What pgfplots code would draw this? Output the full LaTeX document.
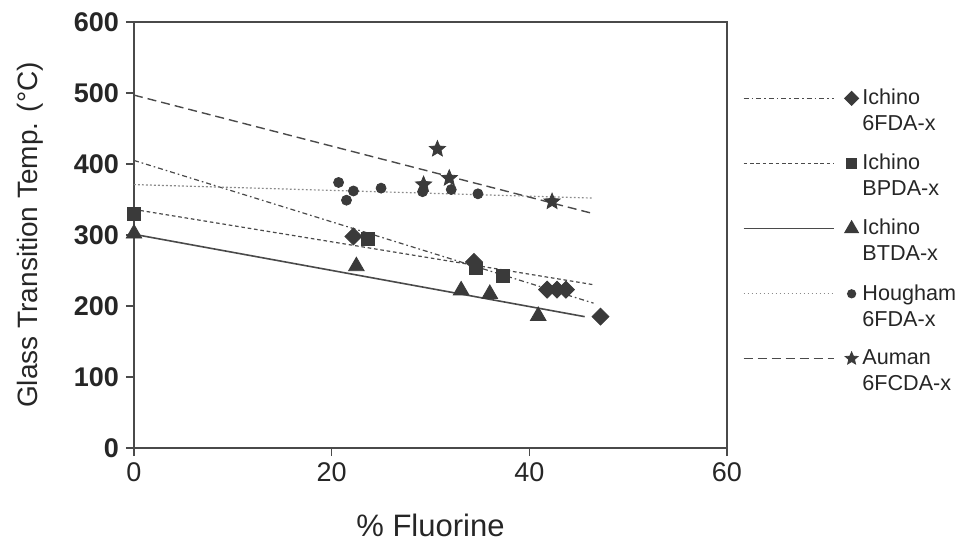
\documentclass[border=0pt]{standalone}
\usepackage{pgfplots}
\pgfplotsset{compat=1.18}
\usepackage{fontspec}
\setmainfont{Liberation Sans}
\definecolor{mk}{HTML}{3A3A3A}
\definecolor{ln}{HTML}{4A4A4A}
\definecolor{lh}{HTML}{8A8A8A}
\pgfdeclareplotmark{fstar}{%
  \pgfpathmoveto{\pgfqpointpolar{90}{\pgfplotmarksize}}%
  \pgfpathlineto{\pgfqpointpolar{126}{0.45\pgfplotmarksize}}%
  \pgfpathlineto{\pgfqpointpolar{162}{\pgfplotmarksize}}%
  \pgfpathlineto{\pgfqpointpolar{198}{0.45\pgfplotmarksize}}%
  \pgfpathlineto{\pgfqpointpolar{234}{\pgfplotmarksize}}%
  \pgfpathlineto{\pgfqpointpolar{270}{0.45\pgfplotmarksize}}%
  \pgfpathlineto{\pgfqpointpolar{306}{\pgfplotmarksize}}%
  \pgfpathlineto{\pgfqpointpolar{342}{0.45\pgfplotmarksize}}%
  \pgfpathlineto{\pgfqpointpolar{18}{\pgfplotmarksize}}%
  \pgfpathlineto{\pgfqpointpolar{54}{0.45\pgfplotmarksize}}%
  \pgfpathclose
  \pgfusepathqfillstroke}
\begin{document}
\begin{tikzpicture}
\useasboundingbox (-67pt,-46pt) rectangle (413.5pt,224pt);
\begin{axis}[
  at={(0,0)}, anchor=south west,
  scale only axis, width=296.5pt, height=213pt,
  xmin=0, xmax=60, ymin=0, ymax=600,
  xtick={0,20,40,60}, ytick={0,100,...,600},
  tick align=outside, tick pos=left,
  major tick length=4pt,
  axis line style={line width=0.8pt, color=ln},
  every tick/.style={line width=0.8pt, color=ln},
  /pgf/number format/assume math mode=true,
  xticklabel style={font=\fontsize{13.5}{15}\selectfont, color=black!85},
  yticklabel style={font=\fontsize{13.5}{15}\selectfont\bfseries, color=black!85},
  xlabel={\% Fluorine}, ylabel={Glass Transition Temp. (°C)},
  every axis x label/.style={at={(axis description cs:0.5,0)}, yshift=-38.5pt, anchor=center, font=\fontsize{15.5}{17}\selectfont, color=black!85},
  every axis y label/.style={at={(axis description cs:0,0.5)}, xshift=-52pt, rotate=90, anchor=center, font=\fontsize{14}{16}\selectfont, color=black!85},
  legend style={at={(1.026,0.853)}, anchor=north west, draw=none, fill=none, inner sep=0pt,
    row sep=6.25pt, font=\fontsize{10.8}{13}\selectfont, text=black!85, cells={align=left}},
  legend cell align=left,
  legend image code/.code={%
    \path[draw=none, fill=none] (0pt,-11pt) rectangle (1pt,11pt);
    \draw[#1, mark=none] (0pt,6.5pt) -- (45pt,6.5pt);
    \draw[#1, solid, every mark/.append style={scale=0.8}] plot coordinates {(54pt,6.5pt)};},
]
% legend entries
\addlegendimage{ln, line width=0.6pt, dash pattern=on 2.5pt off 1.5pt on 0.8pt off 1.5pt, mark=square*, mark size=3pt, mark options={fill=mk, draw=mk, rotate=45}}
\addlegendentry{Ichino\\6FDA-x}
\addlegendimage{ln, line width=0.6pt, dash pattern=on 1.8pt off 1.4pt, mark=square*, mark size=3.2pt, mark options={fill=mk, draw=mk}}
\addlegendentry{Ichino\\BPDA-x}
\addlegendimage{ln, line width=0.8pt, solid, mark=triangle*, mark size=4.5pt, mark options={fill=mk, draw=mk}}
\addlegendentry{Ichino\\BTDA-x}
\addlegendimage{lh, line width=0.6pt, dash pattern=on 0.9pt off 1.1pt, mark=*, mark size=2.5pt, mark options={fill=mk, draw=mk}}
\addlegendentry{Hougham\\6FDA-x}
\addlegendimage{ln, line width=0.7pt, dash pattern=on 4.5pt off 2.5pt, mark=fstar, mark size=4.2pt, mark options={fill=mk, draw=mk, line width=0.4pt}}
\addlegendentry{Auman\\6FCDA-x}
% fitted lines
\addplot[forget plot, ln, line width=0.6pt, dash pattern=on 2.5pt off 1.5pt on 0.8pt off 1.5pt] coordinates {(0,405) (46.5,204)};
\addplot[forget plot, ln, line width=0.6pt, dash pattern=on 1.8pt off 1.4pt] coordinates {(0,336) (46.5,230)};
\addplot[forget plot, ln, line width=0.8pt] coordinates {(0,301) (45.6,185)};
\addplot[forget plot, lh, line width=0.6pt, dash pattern=on 0.9pt off 1.1pt] coordinates {(0,371) (46.5,352)};
\addplot[forget plot, ln, line width=0.7pt, dash pattern=on 4.5pt off 2.5pt] coordinates {(0,497) (46.5,330)};
% data points
\addplot[forget plot, only marks, mark=square*, mark size=3pt, mark options={fill=mk, draw=mk, rotate=45}] coordinates {
 (22.2,298) (34.4,262) (41.8,223) (42.8,223) (43.7,223) (47.2,185)};
\addplot[forget plot, only marks, mark=square*, mark size=3.2pt, mark options={fill=mk, draw=mk}] coordinates {
 (0,330) (23.7,295) (34.6,253) (37.3,242)};
\addplot[forget plot, only marks, mark=triangle*, mark size=4.5pt, mark options={fill=mk, draw=mk}] coordinates {
 (0,302) (22.5,256) (33.1,222) (36.0,217) (40.9,186)};
\addplot[forget plot, only marks, mark=*, mark size=2.5pt, mark options={fill=mk, draw=mk}] coordinates {
 (20.7,374) (21.5,349) (22.2,362) (25.0,366) (29.2,361) (32.1,364) (34.8,358)};
\addplot[forget plot, only marks, mark=fstar, mark size=4.2pt, mark options={fill=mk, draw=mk, line width=0.4pt}] coordinates {
 (29.3,371) (30.7,421) (31.9,380) (42.3,347)};
\end{axis}
\end{tikzpicture}
\end{document}
